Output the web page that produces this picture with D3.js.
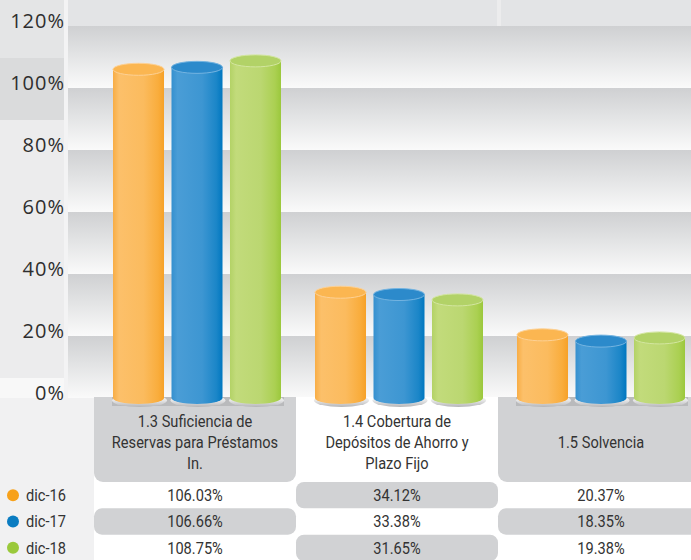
<!DOCTYPE html>
<html><head><meta charset="utf-8">
<script src="https://cdn.jsdelivr.net/npm/d3@7"></script>
<style>body{margin:0;background:#fff}svg{display:block}</style>
</head><body><svg id="c" width="691" height="560"></svg>
<script>
// ---- data ----
const categories = ["1.3 Suficiencia de Reservas para Préstamos In.", "1.4 Cobertura de Depósitos de Ahorro y Plazo Fijo", "1.5 Solvencia"];
const categoryLines = [["1.3 Suficiencia de", "Reservas para Préstamos", "In."], ["1.4 Cobertura de", "Depósitos de Ahorro y", "Plazo Fijo"], ["1.5 Solvencia"]];
const seriesNames = ["dic-16", "dic-17", "dic-18"];
const dic16 = [106.03, 34.12, 20.37];
const dic17 = [106.66, 33.38, 18.35];
const dic18 = [108.75, 31.65, 19.38];
const yTicks = [0, 20, 40, 60, 80, 100, 120];
const seriesColors = ["#f7a11a", "#0a7cc1", "#9ac93b"];

const seriesValues = [dic16, dic17, dic18];
const svg = d3.select("#c");
const W = 691, H = 560;
const defs = svg.append("defs");
const NARROW = 0.86;
const tFont = "Roboto, 'Liberation Sans', sans-serif";

const x0 = d3.scaleBand().domain(categories).range([94, 700]);
const x1 = d3.scaleBand().domain(seriesNames).range([19, 187]).paddingInner(0.128);
const y = d3.scaleLinear().domain([0, 120]).range([398, 26]);
const rowY = d3.scaleBand().domain(seriesNames).range([482, 561]);
const fmt = v => v.toFixed(2) + "%";

// gradients
const bandG = defs.append("linearGradient").attr("id", "band").attr("x1", 0).attr("y1", 0).attr("x2", 0).attr("y2", 1);
[[0, "#cfd0d2"], [0.45, "#e2e3e4"], [1, "#fafafa"]].forEach(s => bandG.append("stop").attr("offset", s[0]).attr("stop-color", s[1]));

const bodyStops = [
  [["0", "#f8ad45"], ["0.12", "#fcc06a"], ["0.6", "#fbbb5e"], ["0.88", "#f9ad3d"], ["1", "#f6a128"]],
  [["0", "#3590cf"], ["0.12", "#4a9dd6"], ["0.6", "#3d96d2"], ["0.88", "#1b86c8"], ["1", "#0077c0"]],
  [["0", "#b3d266"], ["0.12", "#c2db7b"], ["0.6", "#bbd771"], ["0.88", "#abd052"], ["1", "#9bc83c"]]
];
bodyStops.forEach((st, i) => {
  const g = defs.append("linearGradient").attr("id", "body" + i).attr("x1", 0).attr("x2", 1).attr("y1", 0).attr("y2", 0);
  st.forEach(s => g.append("stop").attr("offset", s[0]).attr("stop-color", s[1]));
});
const topFill = ["#fbb651", "#2c8acb", "#b2d267"];
const topRim = ["#fdd195", "#74b4e1", "#d3e6a0"];
const discG = defs.append("linearGradient").attr("id", "disc").attr("x1", 0).attr("x2", 0).attr("y1", 0).attr("y2", 1);
[[0, "#ffffff"], [0.5, "#e6e6e7"], [1, "#b4b5b7"]].forEach(s => discG.append("stop").attr("offset", s[0]).attr("stop-color", s[1]));

// ---- background ----
svg.append("rect").attr("width", W).attr("height", H).attr("fill", "#ffffff");
svg.append("rect").attr("x", 0).attr("y", 0).attr("width", W).attr("height", y(120)).attr("fill", "#e3e4e6");
svg.append("rect").attr("x", 497).attr("y", 0).attr("width", 4).attr("height", y(120)).attr("fill", "#ececed");
// left column
svg.append("rect").attr("x", 0).attr("y", 0).attr("width", 68).attr("height", 400).attr("fill", "#e4e5e6");
svg.append("rect").attr("x", 0).attr("y", 58).attr("width", 64).attr("height", 62).attr("fill", "#dadbdc");
svg.append("rect").attr("x", 0).attr("y", 120).attr("width", 64).attr("height", 258).attr("fill", "#ececed");
svg.append("rect").attr("x", 0).attr("y", 378).attr("width", 68).attr("height", 30).attr("fill", "#f8f8f8");
svg.append("rect").attr("x", 0).attr("y", 398).attr("width", 94).attr("height", H - 398).attr("fill", "#f1f1f2");
svg.append("rect").attr("x", 64).attr("y", 0).attr("width", 4).attr("height", 398).attr("fill", "#f3f3f4");

// plot bands
const bandTicks = yTicks.slice(1);
svg.append("g").selectAll("rect").data(bandTicks).join("rect")
  .attr("x", 68).attr("width", W - 68)
  .attr("y", d => y(d)).attr("height", d => y(d - 20) - y(d))
  .attr("fill", "url(#band)");

// y labels
svg.append("g").selectAll("text").data(yTicks).join("text")
  .attr("x", 65).attr("y", d => y(d) + 2)
  .attr("text-anchor", "end")
  .attr("font-family", "'Open Sans', sans-serif").attr("font-size", 20).attr("letter-spacing", 1)
  .attr("fill", "#2e2e2e")
  .text(d => d + "%");

function narrowText(g, x, yy, txt, anchor) {
  return g.append("text")
    .attr("transform", `translate(${x},${yy}) scale(${NARROW},1)`)
    .attr("dy", "0.35em").attr("text-anchor", anchor || "middle")
    .attr("font-family", tFont).attr("font-size", 17).attr("fill", "#333")
    .text(txt);
}

// ---- category header boxes ----
const headerTop = 397, headerBot = rowY.range()[0];
categories.forEach((c, j) => {
  const gray = j !== 1;
  const fill = gray ? "#d1d2d4" : "#ffffff";
  const x = x0(c), w = x0.bandwidth();
  svg.append("rect").attr("x", x).attr("y", headerTop).attr("width", w).attr("height", headerBot - headerTop).attr("rx", 9).attr("fill", fill);
  svg.append("rect").attr("x", x).attr("y", headerTop).attr("width", w).attr("height", 20).attr("fill", fill);
  const lines = categoryLines[j];
  const cy = (headerTop + 6 + headerBot) / 2;
  const lh = 21;
  const g = svg.append("g");
  lines.forEach((d, k) => narrowText(g, x + w / 2 + (j === 2 ? 2 : 0), cy + (k - (lines.length - 1) / 2) * lh, d));
  if (gray) {
    svg.append("rect")
      .attr("x", x + x1(seriesNames[0]) - 1).attr("y", headerTop)
      .attr("width", x1(seriesNames[2]) + x1.bandwidth() - x1(seriesNames[0]) + 4).attr("height", 9)
      .attr("fill", "#b9babc");
  }
});

// ---- cylinders ----
const ry = 6;
const gBars = svg.append("g");
categories.forEach((c, j) => {
  seriesNames.forEach((s, i) => {
    const v = seriesValues[i][j];
    const bx = x0(c) + x1(s), bw = x1.bandwidth();
    const cx = bx + bw / 2;
    const yt = y(v), yb = y(0);
    const g = gBars.append("g");
    g.append("ellipse").attr("cx", cx + 1).attr("cy", yb + 2.5).attr("rx", bw / 2 + 2).attr("ry", ry + 0.5).attr("fill", "url(#disc)");
    g.append("path")
      .attr("d", `M${bx},${yt} L${bx},${yb} A${bw / 2},${ry} 0 0 0 ${bx + bw},${yb} L${bx + bw},${yt} Z`)
      .attr("fill", `url(#body${i})`);
    g.append("ellipse").attr("cx", cx).attr("cy", yt).attr("rx", bw / 2).attr("ry", ry)
      .attr("fill", topFill[i]).attr("stroke", topRim[i]).attr("stroke-width", 1);
  });
});

// ---- table ----
const gT = svg.append("g");
categories.forEach((c, j) => {
  seriesNames.forEach((s, i) => {
    const gray = (i + j) % 2 === 1;
    const x = x0(c), w = x0.bandwidth();
    if (gray) {
      gT.append("rect").attr("x", x).attr("y", rowY(s)).attr("width", w).attr("height", rowY.bandwidth())
        .attr("rx", 8).attr("fill", "#d1d2d4");
    }
    narrowText(gT, x + w / 2 + (j === 2 ? 2 : 0), rowY(s) + rowY.bandwidth() / 2, fmt(seriesValues[i][j]));
  });
});

// legend
const lg = svg.append("g");
seriesNames.forEach((s, i) => {
  const cy = rowY(s) + rowY.bandwidth() / 2;
  lg.append("circle").attr("cx", 13).attr("cy", cy).attr("r", 6).attr("fill", seriesColors[i]);
  narrowText(lg, 26, cy, s, "start");
});
</script></body></html>
